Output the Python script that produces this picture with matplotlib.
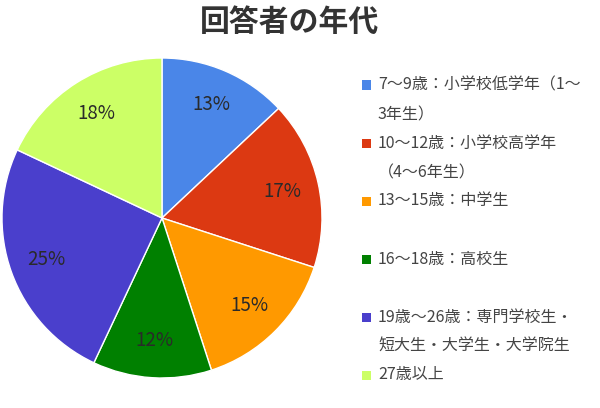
import matplotlib
matplotlib.use("Agg")
import matplotlib.pyplot as plt
from matplotlib.patches import Rectangle

plt.rcParams['font.family'] = ['Noto Sans CJK JP', 'DejaVu Sans']

# data
categories = [
    "7～9歳：小学校低学年（1～\n3年生）",
    "10～12歳：小学校高学年\n（4～6年生）",
    "13～15歳：中学生",
    "16～18歳：高校生",
    "19歳～26歳：専門学校生・\n短大生・大学生・大学院生",
    "27歳以上",
]
shares = [13, 17, 15, 12, 25, 18]
colors = ["#4a86e8", "#dc3912", "#ff9900", "#008000", "#4a3fcc", "#ccff66"]
title = "回答者の年代"

fig = plt.figure(figsize=(6, 4.08), dpi=100)
W, H = 600, 408

# pie axes placed in pixels: centre ~ (162, 218), radius ~160
ax = fig.add_axes([2 / W, (H - 378) / H, 320 / W, 320 / H])
wedges, texts, autotexts = ax.pie(
    shares, colors=colors, startangle=90, counterclock=False,
    autopct=lambda p: f"{p:.0f}%", pctdistance=0.77,
    wedgeprops=dict(edgecolor="white", linewidth=1),
    textprops=dict(color="#2a2a2a", fontsize=13.5),
)
ax.set_xlim(-1, 1)
ax.set_ylim(-1, 1)
ax.set_aspect("equal")
ax.axis("off")

fig.text(289 / W, 1 - 22 / H, title, ha="center", va="center",
         fontsize=21.5, fontweight="bold", color="#333333")

# legend drawn by hand: each entry gets a slot of two lines
slot = 58
line_gap = 29.5
y0 = 85
for i, (lab, col) in enumerate(zip(categories, colors)):
    y = y0 + i * slot
    fig.patches.append(Rectangle((362 / W, 1 - (y + 4.5) / H), 9 / W, 9 / H,
                                 transform=fig.transFigure, facecolor=col,
                                 edgecolor="none"))
    for j, line in enumerate(lab.split("\n")):
        fig.text(378 / W, 1 - (y + j * line_gap) / H, line, ha="left",
                 va="center", fontsize=11.5, color="#444444")

fig.savefig("out.png", dpi=100, facecolor="white")
